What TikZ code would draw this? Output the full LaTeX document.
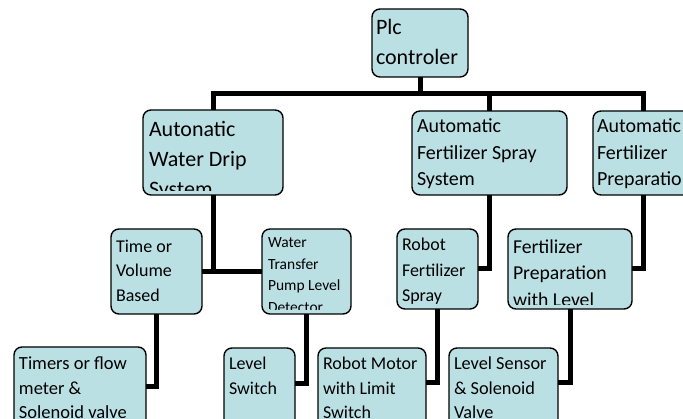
\documentclass[tikz,border=0pt]{standalone}
\usepackage{fontspec}
\setmainfont{Carlito}
\definecolor{boxfill}{RGB}{187,224,228}
\newcommand{\boxlabel}[6]{%
  \clip ([shift={(2pt,-3pt)}]path picture bounding box.north west) rectangle ([shift={(-2pt,4.5pt)}]path picture bounding box.south east);
  \node[anchor=base west, inner sep=0pt] (#6) at ([shift={(#1pt,-#2pt)}]path picture bounding box.north west)
    {\fontsize{#3}{#4}\selectfont\parbox[t]{300pt}{\raggedright #5}};}
\tikzset{
  blk/.style={draw=black, line width=1.4pt, fill=boxfill, rounded corners=8pt,
    inner sep=0pt, outer sep=0pt, anchor=north west, shape=rectangle},
  wire/.style={draw=black, line width=5pt},
}
\begin{document}
\begin{tikzpicture}[x=1pt,y=-1pt]
\clip (0,0) rectangle (683,419);
\fill[white] (0,0) rectangle (683,419);
% level 0
\node[blk, minimum width=96pt, minimum height=68pt,
  path picture={\boxlabel{4}{26}{22}{30}{Plc\\controler}{tplc}}] (plc) at (372,9) {};
% level 1
\node[blk, minimum width=140pt, minimum height=85pt,
  path picture={\boxlabel{6}{27}{22}{30}{Autonatic\\Water Drip\\System}{tawd}}] (awd) at (143,110) {};
\node[blk, minimum width=155pt, minimum height=84pt,
  path picture={\boxlabel{5}{22}{20}{26.5}{Automatic\\Fertilizer Spray\\System}{tspray}}] (spray) at (412,111) {};
\node[blk, minimum width=100pt, minimum height=84pt,
  path picture={\boxlabel{4}{22}{20}{26.5}{Automatic\\Fertilizer\\Preparation}{tprep}}] (prep) at (593,111) {};
% level 2
\node[blk, minimum width=91pt, minimum height=85pt,
  path picture={\boxlabel{5}{23.5}{18}{24.5}{Time or\\Volume\\Based}{ttime}}] (time) at (111,229) {};
\node[blk, minimum width=89pt, minimum height=85pt,
  path picture={\boxlabel{6}{19}{15.5}{21.5}{Water\\Transfer\\Pump Level\\Detector}{twater}}] (water) at (262,229) {};
\node[blk, minimum width=81pt, minimum height=80pt,
  path picture={\boxlabel{5}{22}{18}{25.5}{Robot\\Fertilizer\\Spray}{trfs}}] (rfs) at (397,229) {};
\node[blk, minimum width=124pt, minimum height=80pt,
  path picture={\boxlabel{5}{24.5}{19.7}{26.5}{Fertilizer\\Preparation\\with Level}{tfpl}}] (fpl) at (508,229) {};
% level 3
\node[blk, minimum width=132pt, minimum height=80pt,
  path picture={\boxlabel{5}{23}{18.5}{24.5}{Timers or flow\\meter \&\\Solenoid valve}{ttim}}] (tim) at (14,347) {};
\node[blk, minimum width=71pt, minimum height=80pt,
  path picture={\boxlabel{5}{22}{18}{24.5}{Level\\Switch}{tls}}] (ls) at (224,348) {};
\node[blk, minimum width=108pt, minimum height=80pt,
  path picture={\boxlabel{5}{22}{18}{24.5}{Robot Motor\\with Limit\\Switch}{trm}}] (rm) at (318,348) {};
\node[blk, minimum width=109pt, minimum height=80pt,
  path picture={\boxlabel{5}{22}{18.3}{24.5}{Level Sensor\\\& Solenoid\\Valve}{tlsv}}] (lsv) at (449,348) {};
% connectors
\coordinate (bus) at (0,93.5);
\draw[wire] (plc.south) -- (plc.south |- bus);
\draw[wire] (awd.north) |- (bus -| prep.north) -- (prep.north);
\draw[wire] (spray.north) -- (spray.north |- bus);
\draw[wire] (time.east) -- (water.west);
\draw[wire] (awd.south) -- (awd.south |- time.east);
\draw[wire] (spray.south) |- (rfs.east);
\draw[wire] (prep.south) |- (fpl.east);
\draw[wire] (time.south) |- ([yshift=-40pt]tim.north east);
\draw[wire] (water.south) |- ([yshift=-36pt]ls.north east);
\draw[wire] (rfs.south) |- ([yshift=-35pt]rm.north east);
\draw[wire] (fpl.south) |- ([yshift=-35pt]lsv.north east);
\end{tikzpicture}
\end{document}
